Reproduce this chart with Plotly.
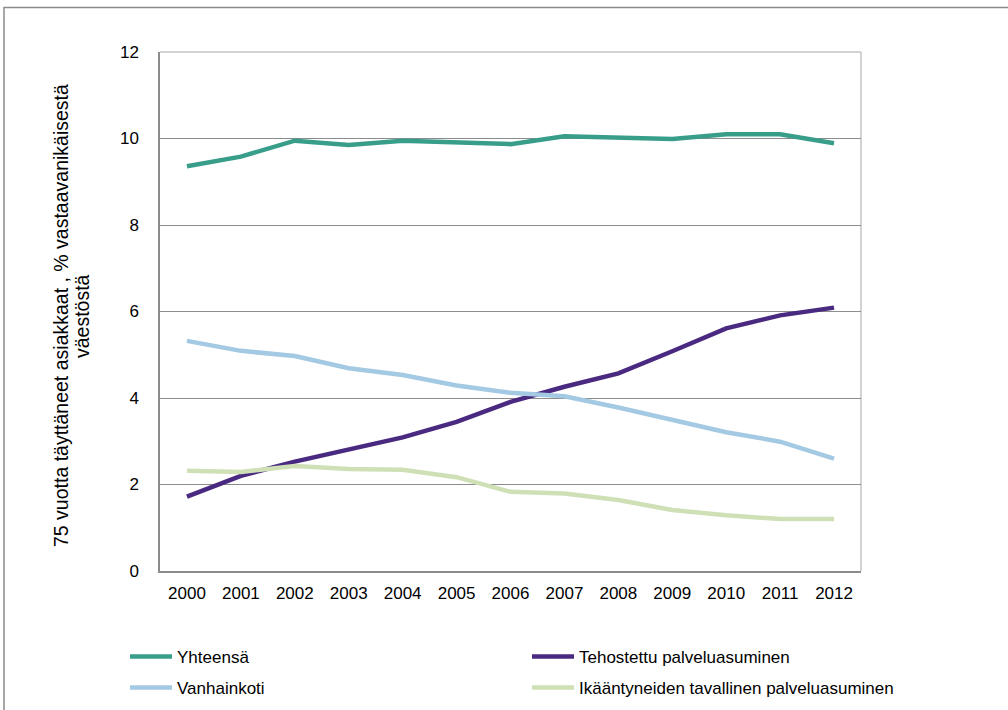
import plotly.graph_objects as go

years = ["2000", "2001", "2002", "2003", "2004", "2005", "2006",
         "2007", "2008", "2009", "2010", "2011", "2012"]
yhteensa = [9.36, 9.58, 9.95, 9.85, 9.95, 9.9, 9.87, 10.05, 10.01, 9.99, 10.1, 10.1, 9.89]
tehostettu = [1.72, 2.2, 2.53, 2.82, 3.09, 3.45, 3.91, 4.26, 4.57, 5.08, 5.61, 5.91, 6.09]
vanhainkoti = [5.32, 5.09, 4.97, 4.69, 4.53, 4.29, 4.12, 4.04, 3.78, 3.49, 3.21, 2.99, 2.6]
tavallinen = [2.32, 2.29, 2.43, 2.36, 2.34, 2.17, 1.83, 1.79, 1.64, 1.41, 1.29, 1.2, 1.2]
y_ticks = [0, 2, 4, 6, 8, 10, 12]

names = ["Yhteensä", "Tehostettu palveluasuminen", "Vanhainkoti",
         "Ikääntyneiden tavallinen palveluasuminen"]
colors = ["#389E8A", "#4A2A80", "#A3C9E3", "#CFE0B6"]
series = [yhteensa, tehostettu, vanhainkoti, tavallinen]
legends = ["legend", "legend", "legend2", "legend2"]
title_lines = ["75 vuotta täyttäneet asiakkaat , % vastaavanikäisestä", "väestöstä"]

FONT = "Liberation Sans, Arial, sans-serif"

W, H = 1008, 710
L, R, T, B = 160, 147, 52, 139
pw, ph = W - L - R, H - T - B

def px(x):
    return (x - L) / pw

def py(y):
    return (H - B - y) / ph

fig = go.Figure()
for n, c, s, lg in zip(names, colors, series, legends):
    fig.add_trace(go.Scatter(x=years, y=s, name=n, mode="lines",
                             line=dict(color=c, width=4.5), legend=lg))

grid_c = "#8c8c8c"
leg_common = dict(orientation="h", xanchor="left", yanchor="middle",
                  entrywidth=345, entrywidthmode="pixels", itemwidth=42,
                  font=dict(size=17), bgcolor="rgba(0,0,0,0)", traceorder="normal")
fig.update_layout(
    width=W, height=H,
    margin=dict(l=L, r=R, t=T, b=B, autoexpand=False),
    paper_bgcolor="white", plot_bgcolor="white",
    font=dict(family=FONT, size=17, color="#000000"),
    xaxis=dict(type="category", showgrid=False, showline=True, linecolor=grid_c,
               linewidth=1.5, ticks="", tickfont=dict(size=17), ticklabelstandoff=6,
               range=[-0.5, 12.5], zeroline=False),
    yaxis=dict(range=[0, 12], tickvals=y_ticks, ticktext=[str(v) for v in y_ticks],
               showgrid=True, gridcolor=grid_c, gridwidth=1, showline=True,
               linecolor=grid_c, linewidth=1.5, ticks="", ticklabelstandoff=16,
               zeroline=False, tickfont=dict(size=17)),
    legend=dict(x=px(125), y=py(657), **leg_common),
    legend2=dict(x=px(125), y=py(688), **leg_common),
    showlegend=True,
)

# light frame on top and right of plot area
fig.add_shape(type="line", xref="paper", yref="paper", x0=0, x1=1, y0=1, y1=1,
              line=dict(color="#c4c4c4", width=1.5), layer="below")
fig.add_shape(type="line", xref="paper", yref="paper", x0=1, x1=1, y0=0, y1=1,
              line=dict(color="#c4c4c4", width=1.5), layer="below")
# outer border (left and top)
fig.add_shape(type="path", xref="paper", yref="paper",
              path=f"M {px(4)} {py(712)} L {px(4)} {py(7.5)} L {px(1010)} {py(7.5)}",
              line=dict(color="#8a8a8a", width=1.5))

for txt, xc in zip(title_lines, [61, 82]):
    fig.add_annotation(xref="paper", yref="paper", x=px(xc), y=py(316),
                       text=txt, textangle=-90, showarrow=False,
                       font=dict(size=19.5, family=FONT),
                       xanchor="center", yanchor="middle")

fig.write_html("out.html", config={"displayModeBar": False},
               post_script="document.body.style.margin='0';document.body.style.padding='0';")
